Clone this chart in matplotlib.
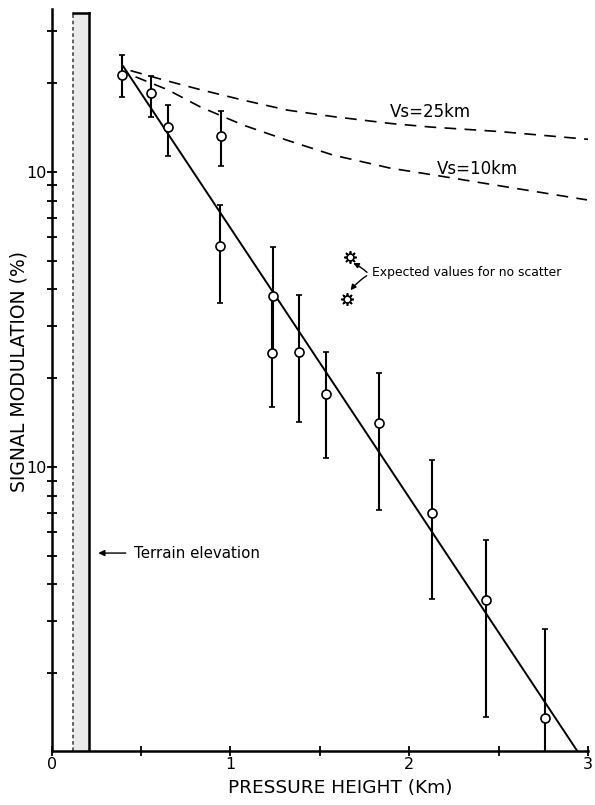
import matplotlib
matplotlib.use("Agg")
import matplotlib.pyplot as plt
from matplotlib.ticker import FixedLocator, FixedFormatter, NullFormatter
import numpy as np

# ---- data ----
heights = [0.395, 0.557, 0.651, 0.948, 0.944, 1.236, 1.233, 1.384, 1.532, 1.829, 2.127, 2.430, 2.758]
modulation = [21.3, 18.5, 14.2, 13.2, 5.6, 3.8, 2.44, 2.45, 1.77, 1.41, 0.70, 0.354, 0.141]
err_high = [24.9, 21.1, 16.8, 16.1, 7.7, 5.56, 3.8, 3.83, 2.45, 2.09, 1.06, 0.564, 0.282]
err_low = [17.9, 15.4, 11.3, 10.5, 3.6, 2.44, 1.60, 1.42, 1.07, 0.715, 0.356, 0.142, 0.10]

fit_x = [0.40, 2.94]
fit_y = [22.8, 0.109]

vs25_x = [0.441, 0.626, 0.832, 1.073, 1.318, 1.575, 1.894, 2.117, 2.508, 3.0]
vs25_y = [22.05, 20.5, 19.0, 17.5, 16.2, 15.4, 14.6, 14.2, 13.7, 12.9]
vs10_x = [0.469, 0.648, 0.832, 1.073, 1.318, 1.575, 1.894, 2.134, 2.508, 2.994]
vs10_y = [21.0, 19.0, 16.6, 14.4, 12.8, 11.4, 10.3, 9.77, 8.97, 8.04]

expected_x = [1.667, 1.652]
expected_y = [5.16, 3.72]

terrain_x = [0.12, 0.21]

xticks_major = [0, 1, 2, 3]
xticks_minor = [0.5, 1.5, 2.5]
ytick_labels = ["10", "10"]
ytick_pos = [10, 1]
yminor = [0.2, 0.3, 0.4, 0.5, 0.6, 0.7, 0.8, 0.9, 2, 3, 4, 5, 6, 7, 8, 9, 20, 30]

plt.rcParams['font.family'] = ['DejaVu Sans']

fig = plt.figure(figsize=(5.95, 8.05), dpi=100)
ax = fig.add_axes([0.0869, 0.067, 0.9014, 0.922])
ax.set_yscale('log')
ymin, ymax = 0.109, 35.7
ax.set_xlim(0, 3.0)
ax.set_ylim(ymin, ymax)

# terrain bar
ax.fill_between(terrain_x, ymin, ymax * 0.97, color='#ebebeb', zorder=1, lw=0)
ax.plot([terrain_x[0]] * 2, [ymin, ymax * 0.97], color='#555555', lw=1.3, ls=(0, (2, 1.5)), zorder=2)
ax.plot([terrain_x[1]] * 2, [ymin, ymax * 0.97], color='black', lw=1.8, zorder=2)
ax.plot(terrain_x, [ymax * 0.97] * 2, color='black', lw=1.8, zorder=2)

# fit line
ax.plot(fit_x, fit_y, color='black', lw=1.4, zorder=3)

# dashed model curves
ax.plot(vs25_x, vs25_y, color='black', lw=1.2, ls=(0, (7, 5)), zorder=3)
ax.plot(vs10_x, vs10_y, color='black', lw=1.2, ls=(0, (7, 5)), zorder=3)

# data points with error bars
mod = np.array(modulation)
yerr = np.vstack([mod - np.array(err_low), np.array(err_high) - mod])
ax.errorbar(heights, modulation, yerr=yerr, fmt='o', color='black', mfc='white',
             mec='black', ms=6.5, mew=1.2, elinewidth=1.5, capsize=2, capthick=1.2, zorder=4)

# expected values (gear-like symbols)
ax.plot(expected_x, expected_y, ls='none', marker=(8, 2, 0), ms=9, color='black', mew=1.2, zorder=5)
ax.plot(expected_x, expected_y, ls='none', marker='o', ms=5, mfc='white', mec='black', mew=1.2, zorder=6)

ax.annotate('', xy=(expected_x[0] + 0.005, expected_y[0] * 0.96), xytext=(1.775, 4.5),
            arrowprops=dict(arrowstyle='-|>', color='black', lw=1.0, mutation_scale=8,
                            connectionstyle='arc3,rad=0.1'))
ax.annotate('', xy=(expected_x[1] + 0.01, expected_y[1] * 1.05), xytext=(1.775, 4.5),
            arrowprops=dict(arrowstyle='-|>', color='black', lw=1.0, mutation_scale=8,
                            connectionstyle='arc3,rad=0.1'))
ax.text(1.790, 4.55, 'Expected values for no scatter', fontsize=8.9, va='center', ha='left')

# curve labels
ax.text(1.894, 16.0, 'Vs=25km', fontsize=12, va='center', ha='left')
ax.text(2.156, 10.2, 'Vs=10km', fontsize=12, va='center', ha='left')

# terrain label
ax.annotate('', xy=(0.245, 0.511), xytext=(0.43, 0.511),
            arrowprops=dict(arrowstyle='-|>', color='black', lw=1.0, mutation_scale=9))
ax.text(0.46, 0.511, 'Terrain elevation', fontsize=10.8, va='center', ha='left')

# axes styling
for s in ['top', 'right']:
    ax.spines[s].set_visible(False)
for s in ['left', 'bottom']:
    ax.spines[s].set_linewidth(1.8)

ax.xaxis.set_major_locator(FixedLocator(xticks_major))
ax.xaxis.set_minor_locator(FixedLocator(xticks_minor))
ax.set_xticklabels([str(t) for t in xticks_major], fontsize=11.5)
ax.yaxis.set_major_locator(FixedLocator(ytick_pos))
ax.yaxis.set_major_formatter(FixedFormatter(ytick_labels))
ax.yaxis.set_minor_locator(FixedLocator(yminor))
ax.yaxis.set_minor_formatter(NullFormatter())
ax.tick_params(axis='both', which='both', direction='inout', width=1.3, length=7)
ax.tick_params(axis='y', which='major', labelsize=11.5, pad=0)
ax.tick_params(axis='x', which='major', pad=1)

fig.text(19 / 595, 1 - 371 / 805, 'SIGNAL MODULATION (%)', rotation=90, fontsize=13.5,
         ha='center', va='center')
fig.text(340 / 595, 1 - 788 / 805, 'PRESSURE HEIGHT (Km)', fontsize=13.3, ha='center', va='center')

fig.savefig('out.png', dpi=100)
